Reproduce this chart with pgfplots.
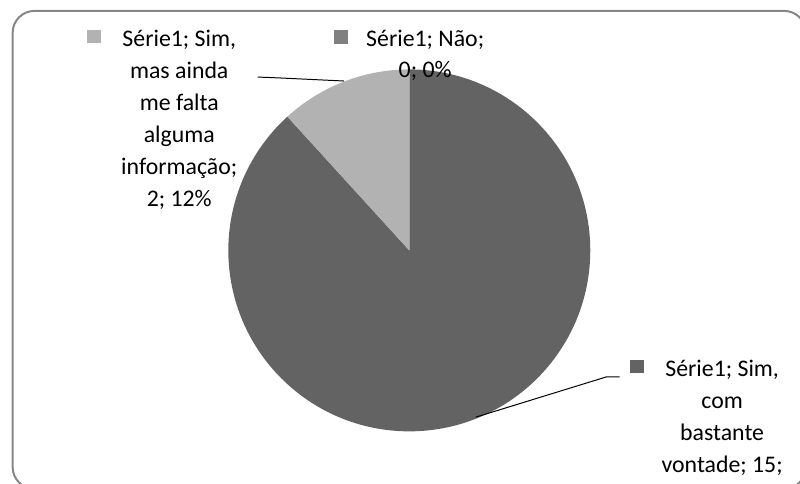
\documentclass[border=0pt]{standalone}
\usepackage{pgfplots}
\pgfplotsset{compat=1.18}
\usepackage{pgfplotstable}
\usepackage{fontspec}
\setmainfont{Carlito}
\definecolor{darkslice}{HTML}{636363}
\definecolor{lightslice}{HTML}{B2B2B2}
\definecolor{midslice}{HTML}{808080}
\definecolor{frame}{HTML}{868686}

\pgfplotstableread{
label value
SimCom 15
SimMas 2
Nao 0
}\piedata

\begin{document}
\pgfplotstablegetelem{0}{value}\of\piedata \let\va\pgfplotsretval
\pgfplotstablegetelem{1}{value}\of\piedata \let\vb\pgfplotsretval
\pgfplotstablegetelem{2}{value}\of\piedata \let\vc\pgfplotsretval
\pgfmathsetmacro\total{\va+\vb+\vc}
\pgfmathsetmacro\aA{90-360*\va/\total}
\pgfmathsetmacro\aB{\aA-360*\vb/\total}
\begin{tikzpicture}
\begin{axis}[scale only axis, width=800bp, height=488bp,
  xmin=0, xmax=800, ymin=0, ymax=488, hide axis, clip=true]
\fill[darkslice] (axis cs:406,235.5) -- ++(90:182.5bp) arc[start angle=90, end angle=\aA, radius=182.5bp] -- cycle;
\fill[lightslice] (axis cs:406,235.5) -- ++(\aA:182.5bp) arc[start angle=\aA, end angle=\aB, radius=182.5bp] -- cycle;
% leader lines
\draw[black, line width=1bp] (axis cs:253,410.3) -- (axis cs:273,409.5) -- (axis cs:340,406.3);
\draw[black, line width=1bp] (axis cs:618,108) -- (axis cs:605,108) -- (axis cs:473,67.3);
% legend keys
\fill[lightslice] (axis cs:81,458) rectangle (axis cs:95,444.7);
\fill[midslice] (axis cs:330,458) rectangle (axis cs:344,444);
\fill[darkslice] (axis cs:629,125) rectangle (axis cs:643,112);
% labels
\tikzset{lab/.style={anchor=base, inner sep=0pt, font=\fontsize{24bp}{30bp}\selectfont, text=black}}
\node[lab] at (axis cs:174,441.5) {Série1; Sim,};
\node[lab] at (axis cs:174,409.2) {mas ainda};
\node[lab] at (axis cs:174,377) {me falta};
\node[lab] at (axis cs:174,344.7) {alguma};
\node[lab] at (axis cs:174,312.4) {informação;};
\node[lab] at (axis cs:174,280) {2; 12\%};
\node[lab] at (axis cs:422,441.5) {Série1; Não;};
\node[lab] at (axis cs:422,409.7) {0; 0\%};
\node[lab] at (axis cs:721.5,108) {Série1; Sim,};
\node[lab] at (axis cs:721.5,75.7) {com};
\node[lab] at (axis cs:721.5,43.4) {bastante};
\node[lab] at (axis cs:721.5,11.1) {vontade; 15;};
% frame
\draw[frame, line width=2bp, rounded corners=22bp] (axis cs:6,477) rectangle (axis cs:806,-5);
\end{axis}
\pgfresetboundingbox
\useasboundingbox (0,0) rectangle (800bp,488bp);
\end{tikzpicture}
\end{document}
